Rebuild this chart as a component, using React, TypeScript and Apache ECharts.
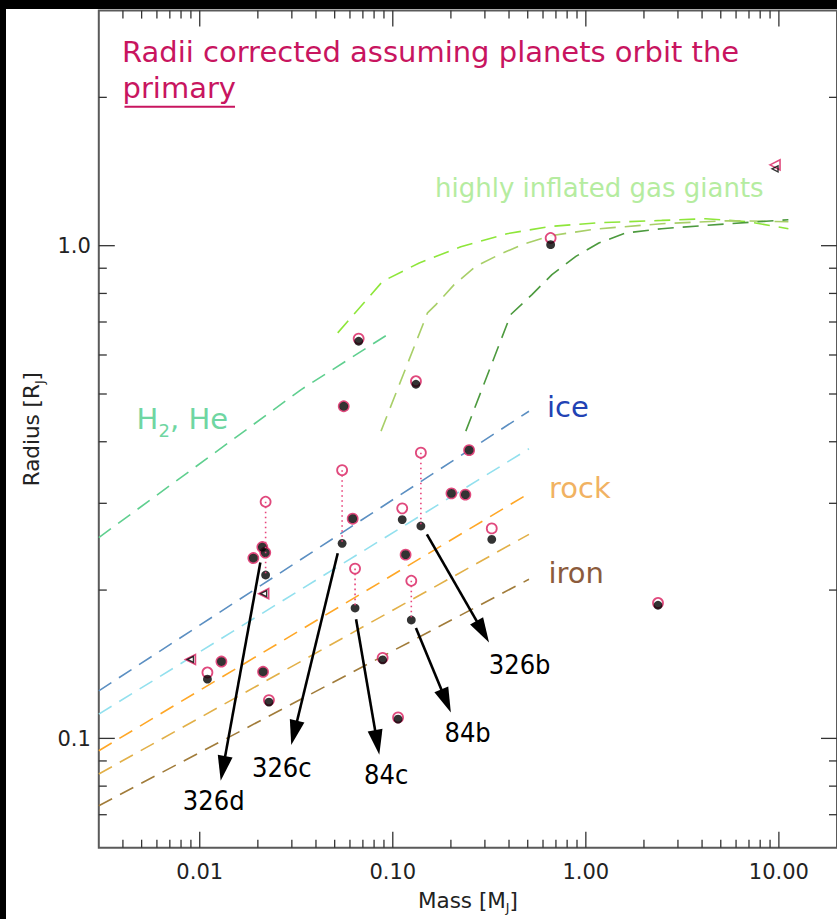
import React, { useEffect, useRef } from 'react';
import * as echarts from 'echarts';

// ---- axis ranges and tick labels ----
const MASS_MIN = 0.003;
const MASS_MAX = 20;
const RADIUS_MIN = 0.06;
const RADIUS_MAX = 3;

const massTickValues = [0.01, 0.1, 1, 10];
const massTickLabels = ['0.01', '0.10', '1.00', '10.00'];
const radiusTickValues = [0.1, 1];
const radiusTickLabels = ['0.1', '1.0'];
const minorMultiples = [2, 3, 4, 5, 6, 7, 8, 9];

// ---- planets: mass [M_J], measured radius and radius corrected for the primary [R_J] ----
const planetNames = [
  '326d', '', '', '', '', '', '', '', '', '', '',
  '326c', '', '326b', '', '', '', '', '',
  '84c', '84b', '', '', '', '', '',
];
const planetMass = [
  0.02194, 0.0211, 0.02185, 0.01895, 0.01295, 0.01096, 0.02128, 0.02283, 0.06657, 0.1318, 0.0557,
  0.05464, 0.06197, 0.1398, 0.1119, 0.2013, 0.2485, 0.2377, 0.1165,
  0.06376, 0.1247, 0.3256, 0.6571, 2.365, 0.1065, 0.0886,
];
const radiusObserved = [
  0.2146, 0.2445, 0.2383, 0.2323, 0.1432, 0.1319, 0.1365, 0.1185, 0.6398, 0.5233, 0.4722,
  0.2488, 0.2792, 0.2698, 0.278, 0.3143, 0.3846, 0.3124, 0.236,
  0.1839, 0.1739, 0.2535, 1.0047, 0.1863, 0.1094, 0.1443,
];
const radiusCorrected = [
  0.3022, 0.2445, 0.2383, 0.2323, 0.1432, 0.1361, 0.1365, 0.1196, 0.6477, 0.5308, 0.4722,
  0.3503, 0.2792, 0.3801, 0.293, 0.3143, 0.3846, 0.3124, 0.236,
  0.2211, 0.2089, 0.2668, 1.0366, 0.1883, 0.1103, 0.1457,
];

// mass upper limits
const limitMass = [0.02143, 0.00895, 9.55];
const limitRadiusObserved = [0.1967, 0.1446, 1.432];
const limitRadiusCorrected = [0.1967, 0.1446, 1.459];

// ---- model mass-radius relations ----
const rockyMass = [0.003, 0.5075];
const iceRadius = [0.1249, 0.4613];
const iceRockRadius = [0.112, 0.3872];
const rockRadius = [0.0944, 0.3143];
const rockIronRadius = [0.08467, 0.2595];
const ironRadius = [0.07302, 0.2104];

const gasMass = [0.003, 0.03354, 0.0994];
const gasRadius = [0.2556, 0.5105, 0.6693];

const inflatedMassA = [0.05185, 0.0886, 0.1371, 0.2252, 0.3906, 0.6572, 1.1675, 2.47, 4.171, 6.957, 11.2];
const inflatedRadiusA = [0.6653, 0.8466, 0.9224, 0.9953, 1.0576, 1.0942, 1.1133, 1.1253, 1.1343, 1.1184, 1.0826];
const inflatedMassB = [0.0869, 0.1513, 0.1673, 0.2079, 0.2692, 0.3552, 0.4782, 0.6572, 1.1265, 2.47, 5.483, 11.2];
const inflatedRadiusB = [0.4203, 0.7305, 0.7591, 0.8335, 0.9079, 0.9589, 1.008, 1.0478, 1.081, 1.1081, 1.1238, 1.1184];
const inflatedMassC = [0.2389, 0.4082, 0.526, 0.6674, 0.8878, 1.1675, 1.6095, 2.47, 5.483, 11.2];
const inflatedRadiusC = [0.4203, 0.7247, 0.7957, 0.8733, 0.9513, 1.0127, 1.061, 1.0826, 1.1081, 1.129];

// ---- arrow annotations (data coordinates) ----
const arrowNames = ['326d', '326c', '84c', '84b', '326b'];
const arrowTail = [[0.0206, 0.2274], [0.05185, 0.2375], [0.06453, 0.1745], [0.1318, 0.1676], [0.1502, 0.2595]];
const arrowTip = [[0.01284, 0.08204], [0.02978, 0.09692], [0.08516, 0.09263], [0.1999, 0.1129], [0.3152, 0.1565]];
const arrowLabelAt = [[0.008366, 0.07156], [0.01909, 0.08375], [0.0727, 0.08078], [0.1897, 0.09842], [0.3217, 0.135]];

const SANS = '"DejaVu Sans", Verdana, sans-serif';
const NARROW = '"DejaVu Sans Condensed", "DejaVu Sans", sans-serif';
const CRIMSON = '#c8155f';
const RING = '#d81b5c';
const AXIS_TEXT = '#222';

function logTicks(min: number, max: number) {
  const out: number[][] = [];
  const lo = Math.floor(Math.log10(min));
  const hi = Math.ceil(Math.log10(max));
  for (let e = lo; e <= hi; e++) {
    const base = Math.pow(10, e);
    [1, ...minorMultiples].forEach((k) => {
      const v = +(k * base).toPrecision(6);
      if (v > min * 1.0001 && v < max * 0.9999) out.push([v, k === 1 ? 1 : 0]);
    });
  }
  return out;
}

function pairs(xs: number[], ys: number[]) {
  return xs.map((x, i) => [x, ys[i]]);
}

function modelLine(name: string, xs: number[], ys: number[], color: string, dash: number[]) {
  return {
    name,
    type: 'line',
    data: pairs(xs, ys),
    showSymbol: false,
    symbol: 'none',
    silent: true,
    z: 2,
    lineStyle: { color, width: 1.6, type: dash },
  };
}

function textWidth(text: string, font: string) {
  const ctx = document.createElement('canvas').getContext('2d');
  if (!ctx) return text.length * 16;
  ctx.font = font;
  return ctx.measureText(text).width;
}

const axisNameStyle = {
  fontFamily: SANS,
  fontSize: 21.5,
  color: AXIS_TEXT,
  lineHeight: 28,
  rich: { s: { fontFamily: SANS, fontSize: 12.5, lineHeight: 12, color: AXIS_TEXT, verticalAlign: 'bottom' } },
};

export default function App() {
  const ref = useRef<HTMLDivElement>(null);

  useEffect(() => {
    document.body.style.margin = '0';
    if (!ref.current) return;
    const chart = echarts.init(ref.current, undefined, { renderer: 'svg' });

    const xTicks = logTicks(MASS_MIN, MASS_MAX);
    const yTicks = logTicks(RADIUS_MIN, RADIUS_MAX);
    const underlineW = textWidth('primary', `29px ${SANS}`);

    const option: any = {
      animation: false,
      backgroundColor: '#fff',
      grid: {
        left: 98.8,
        top: 10.6,
        width: 740,
        height: 838,
        show: true,
        borderColor: '#5a5a5a',
        borderWidth: 2,
        backgroundColor: 'transparent',
        containLabel: false,
      },
      xAxis: {
        type: 'log',
        logBase: 10,
        min: MASS_MIN,
        max: MASS_MAX,
        axisLine: { show: false },
        axisTick: { show: false },
        axisLabel: { show: false },
        splitLine: { show: false },
        name: 'Mass [M{s|J}]',
        nameLocation: 'middle',
        nameGap: 38.3,
        nameTextStyle: axisNameStyle,
      },
      yAxis: {
        type: 'log',
        logBase: 10,
        min: RADIUS_MIN,
        max: RADIUS_MAX,
        axisLine: { show: false },
        axisTick: { show: false },
        axisLabel: { show: false },
        splitLine: { show: false },
        name: 'Radius [R{s|J}]',
        nameLocation: 'middle',
        nameGap: 53.2,
        nameTextStyle: axisNameStyle,
      },
      series: [
        // tick marks on bottom/top edges, with labels under the major ones
        {
          type: 'custom',
          coordinateSystem: 'cartesian2d',
          silent: true,
          z: 10,
          data: xTicks.map((t) => [t[0], 1, t[1]]),
          encode: { x: 0, y: 1 },
          renderItem: (params: any, api: any) => {
            const v = api.value(0);
            const major = api.value(2) === 1;
            const p = api.coord([v, 1]);
            const cs = params.coordSys;
            const len = major ? 16 : 8;
            const bottom = cs.y + cs.height;
            const tickStyle = { stroke: '#333', lineWidth: 1.3 };
            const children: any[] = [
              { type: 'line', shape: { x1: p[0], y1: bottom, x2: p[0], y2: bottom - len }, style: tickStyle },
              { type: 'line', shape: { x1: p[0], y1: cs.y, x2: p[0], y2: cs.y + len }, style: tickStyle },
            ];
            const li = massTickValues.findIndex((m) => Math.abs(m - v) / m < 1e-6);
            if (major && li >= 0) {
              children.push({
                type: 'text',
                style: {
                  text: massTickLabels[li], x: p[0], y: bottom + 24.5,
                  fontFamily: SANS, fontSize: 21, fill: AXIS_TEXT, align: 'center', verticalAlign: 'middle',
                },
              });
            }
            return { type: 'group', children };
          },
        },
        // tick marks on left/right edges
        {
          type: 'custom',
          coordinateSystem: 'cartesian2d',
          silent: true,
          z: 10,
          data: yTicks.map((t) => [1, t[0], t[1]]),
          encode: { x: 0, y: 1 },
          renderItem: (params: any, api: any) => {
            const v = api.value(1);
            const major = api.value(2) === 1;
            const p = api.coord([1, v]);
            const cs = params.coordSys;
            const len = major ? 16 : 8;
            const right = cs.x + cs.width;
            const tickStyle = { stroke: '#333', lineWidth: 1.3 };
            const children: any[] = [
              { type: 'line', shape: { x1: cs.x, y1: p[1], x2: cs.x + len, y2: p[1] }, style: tickStyle },
              { type: 'line', shape: { x1: right, y1: p[1], x2: right - len, y2: p[1] }, style: tickStyle },
            ];
            const li = radiusTickValues.findIndex((r) => Math.abs(r - v) / r < 1e-6);
            if (major && li >= 0) {
              children.push({
                type: 'text',
                style: {
                  text: radiusTickLabels[li], x: cs.x - 8, y: p[1] + 0.5,
                  fontFamily: SANS, fontSize: 21, fill: AXIS_TEXT, align: 'right', verticalAlign: 'middle',
                },
              });
            }
            return { type: 'group', children };
          },
        },
        modelLine('H2, He', gasMass, gasRadius, '#5fcf8f', [15, 9]),
        modelLine('ice', rockyMass, iceRadius, '#5b8fc2', [15, 9]),
        modelLine('ice/rock', rockyMass, iceRockRadius, '#92e0ee', [15, 9]),
        modelLine('rock', rockyMass, rockRadius, '#ffa726', [15, 9]),
        modelLine('rock/iron', rockyMass, rockIronRadius, '#e2b048', [15, 9]),
        modelLine('iron', rockyMass, ironRadius, '#a17c3a', [15, 9]),
        modelLine('inflated A', inflatedMassA, inflatedRadiusA, '#8ee63a', [16, 9]),
        modelLine('inflated B', inflatedMassB, inflatedRadiusB, '#a8cf68', [16, 9]),
        modelLine('inflated C', inflatedMassC, inflatedRadiusC, '#4c9a3e', [16, 9]),
        // corrected radii: open rings
        {
          name: 'corrected',
          type: 'scatter',
          data: pairs(planetMass, radiusCorrected),
          symbol: 'circle',
          symbolSize: 10,
          silent: true,
          z: 3,
          itemStyle: { color: '#fff', borderColor: RING, borderWidth: 1.8 },
        },
        // measured radii: black dots
        {
          name: 'observed',
          type: 'scatter',
          data: pairs(planetMass, radiusObserved),
          symbol: 'circle',
          symbolSize: 8.8,
          silent: true,
          z: 4,
          itemStyle: { color: '#000' },
        },
        // mass upper limits
        {
          name: 'limit corrected',
          type: 'scatter',
          data: pairs(limitMass, limitRadiusCorrected),
          symbol: 'triangle',
          symbolRotate: 90,
          symbolSize: 10,
          silent: true,
          z: 3,
          itemStyle: { color: '#fff', borderColor: RING, borderWidth: 1.6 },
        },
        {
          name: 'limit observed',
          type: 'scatter',
          data: pairs(limitMass, limitRadiusObserved),
          symbol: 'triangle',
          symbolRotate: 90,
          symbolSize: 6,
          silent: true,
          z: 4,
          itemStyle: { color: 'rgba(0,0,0,0)', borderColor: '#000', borderWidth: 1.4 },
        },
        // dotted links between corrected and measured radius of the named planets
        {
          type: 'custom',
          coordinateSystem: 'cartesian2d',
          silent: true,
          z: 5,
          data: planetNames
            .map((n, i) => (n ? [planetMass[i], radiusCorrected[i], radiusObserved[i]] : null))
            .filter((d) => d !== null),
          encode: { x: 0, y: [1, 2] },
          renderItem: (params: any, api: any) => {
            const a = api.coord([api.value(0), api.value(1)]);
            const b = api.coord([api.value(0), api.value(2)]);
            return {
              type: 'line',
              shape: { x1: a[0], y1: a[1], x2: b[0], y2: b[1] },
              style: { stroke: '#e8457c', lineWidth: 1.6, lineDash: [1.6, 3.4] },
            };
          },
        },
        // arrows pointing to the planet names
        {
          type: 'custom',
          coordinateSystem: 'cartesian2d',
          silent: true,
          z: 6,
          data: arrowNames.map((_, i) => [
            arrowTail[i][0], arrowTail[i][1], arrowTip[i][0], arrowTip[i][1], arrowLabelAt[i][0], arrowLabelAt[i][1],
          ]),
          encode: { x: [0, 2, 4], y: [1, 3, 5] },
          renderItem: (params: any, api: any) => {
            const s = api.coord([api.value(0), api.value(1)]);
            const t = api.coord([api.value(2), api.value(3)]);
            const l = api.coord([api.value(4), api.value(5)]);
            const dx = t[0] - s[0];
            const dy = t[1] - s[1];
            const len = Math.sqrt(dx * dx + dy * dy);
            const ux = dx / len;
            const uy = dy / len;
            const headL = 25;
            const headW = 7.5;
            const bx = t[0] - ux * headL;
            const by = t[1] - uy * headL;
            return {
              type: 'group',
              children: [
                {
                  type: 'line',
                  shape: { x1: s[0], y1: s[1], x2: bx + ux * 2, y2: by + uy * 2 },
                  style: { stroke: '#000', lineWidth: 2.6 },
                },
                {
                  type: 'polygon',
                  shape: {
                    points: [
                      [t[0], t[1]],
                      [bx - uy * headW, by + ux * headW],
                      [bx + uy * headW, by - ux * headW],
                    ],
                  },
                  style: { fill: '#000' },
                },
                {
                  type: 'text',
                  style: {
                    text: arrowNames[params.dataIndex], x: l[0] - 2, y: l[1] - 9.3,
                    fontFamily: NARROW, fontSize: 27, fill: '#000', align: 'left', verticalAlign: 'middle',
                  },
                },
              ],
            };
          },
        },
      ],
      graphic: [
        { type: 'rect', silent: true, z: 100, shape: { x: 0, y: 0, width: 6, height: 919 }, style: { fill: '#000' } },
        { type: 'rect', silent: true, z: 100, shape: { x: 0, y: 0, width: 837, height: 9 }, style: { fill: '#000' } },
        {
          type: 'text', silent: true, z: 50, x: 122, y: 52.3,
          style: { text: 'Radii corrected assuming planets orbit the', fontFamily: SANS, fontSize: 29, fill: CRIMSON, verticalAlign: 'middle' },
        },
        {
          type: 'text', silent: true, z: 50, x: 122.5, y: 88.3,
          style: { text: 'primary', fontFamily: SANS, fontSize: 29, fill: CRIMSON, verticalAlign: 'middle' },
        },
        {
          type: 'line', silent: true, z: 50,
          shape: { x1: 124.5, y1: 106.7, x2: 122.5 + underlineW - 1, y2: 106.7 },
          style: { stroke: CRIMSON, lineWidth: 2 },
        },
        {
          type: 'text', silent: true, z: 50, x: 435, y: 187.7,
          style: { text: 'highly inflated gas giants', fontFamily: SANS, fontSize: 26, fill: '#b5eca0', verticalAlign: 'middle' },
        },
        {
          type: 'text', silent: true, z: 50, x: 136.5, y: 419,
          style: { text: 'H', fontFamily: SANS, fontSize: 29, fill: '#6fd6a2', verticalAlign: 'middle' },
        },
        {
          type: 'text', silent: true, z: 50, x: 158.5, y: 430.5,
          style: { text: '2', fontFamily: SANS, fontSize: 18, fill: '#6fd6a2', verticalAlign: 'middle' },
        },
        {
          type: 'text', silent: true, z: 50, x: 170, y: 419,
          style: { text: ', He', fontFamily: SANS, fontSize: 29, fill: '#6fd6a2', verticalAlign: 'middle' },
        },
        {
          type: 'text', silent: true, z: 50, x: 547, y: 406.7,
          style: { text: 'ice', fontFamily: SANS, fontSize: 29, fill: '#2242b4', verticalAlign: 'middle' },
        },
        {
          type: 'text', silent: true, z: 50, x: 549, y: 488.3,
          style: { text: 'rock', fontFamily: SANS, fontSize: 29, fill: '#f1b262', verticalAlign: 'middle' },
        },
        {
          type: 'text', silent: true, z: 50, x: 548.5, y: 573.3,
          style: { text: 'iron', fontFamily: SANS, fontSize: 29, fill: '#8b5b3c', verticalAlign: 'middle' },
        },
      ],
    };

    chart.setOption(option);
    return () => chart.dispose();
  }, []);

  return <div ref={ref} style={{ width: 837, height: 919 }} />;
}
